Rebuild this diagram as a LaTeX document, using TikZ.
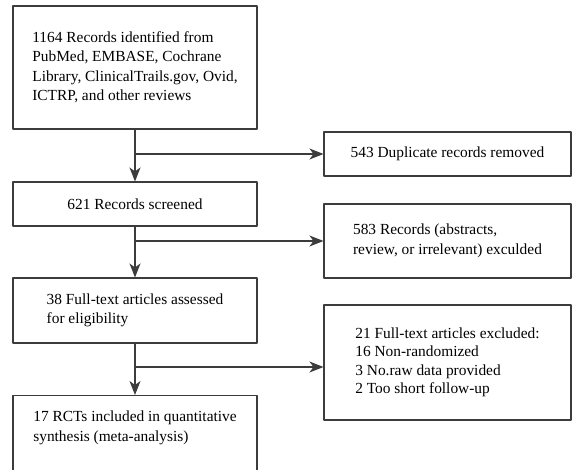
\documentclass[tikz,border=0pt]{standalone}
\usepackage{fontspec}
\setmainfont{Liberation Serif}
\usetikzlibrary{arrows.meta}
\definecolor{linegray}{HTML}{3C3C3C}
\begin{document}
\begin{tikzpicture}[x=1pt, y=-1pt, line join=round]
	\tikzset{box/.style={draw=linegray, line width=1.1pt, rectangle, inner sep=0pt, align=left, font=\fontsize{15.4}{19.5}\selectfont},
		leftbox/.style={box, minimum width=244pt},
		rightbox/.style={box, minimum width=247pt},
		flow/.style={-{Stealth[length=14pt,width=11pt,inset=4pt]}, draw=linegray, line width=1.1pt}}
	\useasboundingbox (0,0) rectangle (572,470);
	\clip (0,0) rectangle (572,470);
	% main column
	\node[leftbox, minimum height=123pt] (src) at (135,67.5) {1164 Records identified from\\PubMed, EMBASE, Cochrane\\Library, ClinicalTrails.gov, Ovid,\\ICTRP, and other reviews};
	\node[leftbox, minimum height=44pt] (screen) at (135,204) {621 Records screened};
	\node[leftbox, minimum height=65pt] (full) at (135,310.5) {38 Full-text articles assessed\\for eligibility};
	\node[leftbox, minimum height=90pt, anchor=north] (incl) at (135,395) {};
	\node[font=\fontsize{15.4}{19.5}\selectfont, align=left] (incltext) at (135,428) {17 RCTs included in quantitative\\synthesis (meta-analysis)};
	% exclusions
	\node[rightbox, minimum height=44pt] (dup) at (447.5,154) {543 Duplicate records removed};
	\node[rightbox, minimum height=74pt] (abs) at (447.5,241) {583 Records (abstracts,\\review, or irrelevant) exculded};
	\node[rightbox, minimum height=115pt, font=\fontsize{15.4}{18.5}\selectfont] (excl) at (447.5,362.5) {21 Full-text articles excluded:\\16 Non-randomized\\3 No.raw data provided\\2 Too short follow-up};
	% arrows
	\draw[flow] (src) -- (screen);
	\draw[flow] (screen) -- (full);
	\draw[flow] (full) -- (incl);
	\draw[flow] (src.south |- dup.west) -- (dup.west);
	\draw[flow] (screen.south |- abs.west) -- (abs.west);
	\draw[flow] ([yshift=-4.5pt]full.south |- excl.west) -- ([yshift=-4.5pt]excl.west);
\end{tikzpicture}
\end{document}
